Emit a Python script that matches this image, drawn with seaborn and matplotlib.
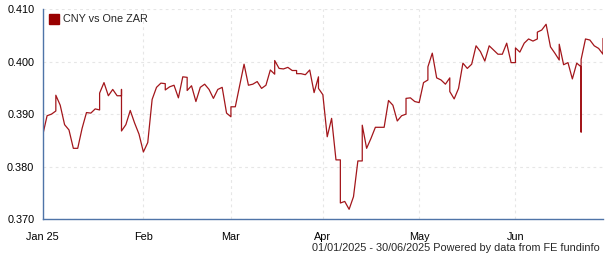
import numpy as np
import pandas as pd
import matplotlib
matplotlib.use("Agg")
import matplotlib.pyplot as plt
from matplotlib.lines import Line2D
import seaborn as sns

series_name = "CNY vs One ZAR"
start_date = "2025-01-01"
end_date = "2025-06-30"
month_starts = ["2025-01-01", "2025-02-01", "2025-03-01", "2025-04-01", "2025-05-01", "2025-06-01"]
month_labels = ["Jan 25", "Feb", "Mar", "Apr", "May", "Jun"]
y_ticks = [0.370, 0.380, 0.390, 0.400, 0.410]
footer = "01/01/2025 - 30/06/2025 Powered by data from FE fundinfo"

# one entry per business day; several values = moves within the same day
daily_values = [
    [0.3860], [0.3897], [0.3900], [0.3906, 0.3936], [0.3917], [0.3880], [0.3870], [0.3835], [0.3835], [0.3873],
    [0.3903], [0.3902], [0.3910], [0.3908, 0.3940], [0.3960], [0.3935], [0.3947], [0.3935], [0.3935, 0.3947, 0.3868], [0.3880],
    [0.3907], [0.3883], [0.3862], [0.3828], [0.3846], [0.3928], [0.3951], [0.3959], [0.3958, 0.3946], [0.3952],
    [0.3955], [0.3931], [0.3971], [0.3970, 0.3945], [0.3954], [0.3924], [0.3951], [0.3957], [0.3947], [0.3930],
    [0.3947], [0.3951], [0.3902], [0.3895, 0.3914], [0.3914], [0.3955], [0.3995], [0.3955], [0.3957], [0.3962],
    [0.3949], [0.3955], [0.3984], [0.3976, 0.4002], [0.3987], [0.3986], [0.3989], [0.3983], [0.3983, 0.3977], [0.3977],
    [0.3975], [0.3984], [0.3941], [0.3971, 0.3949], [0.3937], [0.3857], [0.3892], [0.3813], [0.3813, 0.3731], [0.3734],
    [0.3719], [0.3743], [0.3811], [0.3811, 0.3879], [0.3835], [0.3854], [0.3875], [0.3875], [0.3875], [0.3926],
    [0.3917], [0.3887], [0.3897], [0.3900, 0.3930], [0.3931], [0.3924], [0.3922], [0.3960], [0.3965, 0.3990], [0.4016],
    [0.3969], [0.3965], [0.3957], [0.3969, 0.3943], [0.3929], [0.3949], [0.3997], [0.3987], [0.3995], [0.4030],
    [0.4019], [0.4001], [0.4030], [0.4022], [0.4014], [0.4014], [0.4035], [0.3998], [0.3998, 0.4026], [0.4018],
    [0.4035], [0.4043], [0.4039], [0.4043, 0.4056], [0.4060], [0.4071], [0.4028], [0.4016], [0.4003, 0.4033], [0.3994],
    [0.3998], [0.3967], [0.3997], [0.3990, 0.3866, 0.4004], [0.4043], [0.4041], [0.4030], [0.4025], [0.4014, 0.4044],
]

line_color = "#a3161b"
legend_color = "#990000"
axis_color = "#4f74a8"

sns.set_style("white")
plt.rcParams["font.family"] = ["Liberation Sans", "DejaVu Sans"]

bdays = pd.bdate_range(start_date, end_date)
xs, vs = [], []
for i, day in enumerate(daily_values):
    for v in day:
        xs.append(i)
        vs.append(v)
df = pd.DataFrame({"day": xs, "value": vs})

fig = plt.figure(figsize=(6.05, 2.6), dpi=100)
ax = fig.add_axes([42.7 / 605, 1 - 219.3 / 260, (603 - 42.7) / 605, (219.3 - 9) / 260])

sns.lineplot(data=df, x="day", y="value", estimator=None, sort=False,
             color=line_color, linewidth=0.9, ax=ax, legend=False)

tick_pos = [int(np.busday_count(start_date, m)) for m in month_starts]
ax.set_xlim(0, len(bdays) - 1)
ax.set_ylim(y_ticks[0], y_ticks[-1])
ax.set_xticks(tick_pos)
ax.set_xticklabels(month_labels)
ax.set_xticks([len(bdays) - 1], minor=True)
ax.set_yticks(y_ticks)
ax.set_yticklabels([f"{t:.3f}" for t in y_ticks])
ax.set_xlabel("")
ax.set_ylabel("")

ax.grid(True, which="major", color="#e6e6e6", linestyle=(0, (2.5, 3)), linewidth=0.8)
for s in ["top", "right"]:
    ax.spines[s].set_visible(False)
for s in ["left", "bottom"]:
    ax.spines[s].set_color(axis_color)
    ax.spines[s].set_linewidth(1.0)
ax.tick_params(axis="both", which="both", direction="out", length=4, width=0.9,
               color="#333333", labelsize=7.8, labelcolor="black", pad=2)
ax.tick_params(axis="x", which="major", pad=5)

handle = Line2D([], [], marker="s", linestyle="none", markersize=7.3, color=legend_color)
ax.legend(handles=[handle], labels=[series_name], loc="upper left", frameon=False,
          fontsize=7.8, handletextpad=0.35, borderaxespad=0.2, handlelength=1.0,
          borderpad=0.3)

fig.text(600 / 605, 1 - 248 / 260, footer, ha="right", va="center", fontsize=7.8)

fig.savefig("out.png", dpi=100)
